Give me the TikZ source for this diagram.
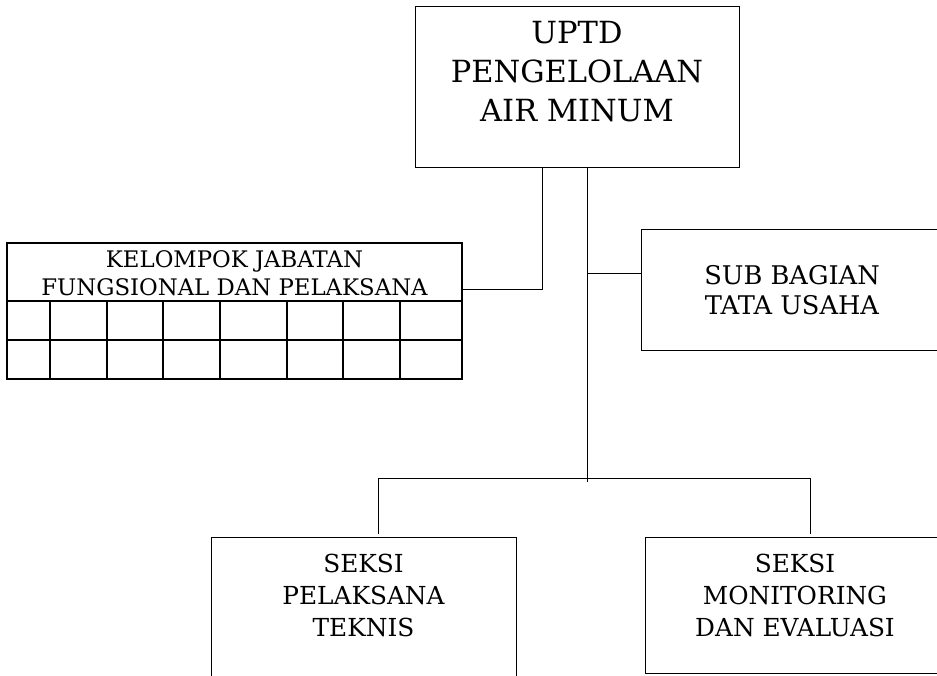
\documentclass[tikz,border=0pt]{standalone}
\usepackage{fontspec}
\setmainfont{DejaVu Serif}
\usepackage{tikz}

\begin{document}
\begin{tikzpicture}[x=1pt, y=-1pt,
  unit/.style={rectangle, draw=black, line width=1pt, inner sep=0pt},
  caption/.style={align=center, inner sep=0pt, text=black},
  link/.style={draw=black, line width=0.9pt},
  gridline/.style={draw=black, line width=1.8pt}
]
  \useasboundingbox (0,0) rectangle (937,676);
  \clip (0,0) rectangle (937,676);

  % boxes
  \node[unit, minimum width=324pt, minimum height=161pt] (uptd) at (577,87.5) {};
  \node[unit, minimum width=302pt, minimum height=120pt] (tu) at (792,290) {};
  \node[unit, minimum width=305pt, minimum height=153pt] (teknis) at (363.5,613.5) {};
  \node[unit, minimum width=300pt, minimum height=136pt] (monev) at (795,605) {};
  \node[unit, line width=1.8pt, minimum width=455pt, minimum height=136pt] (kel) at (234.5,311) {};

  % texts
  \node[caption, font=\fontsize{30.5}{39}\selectfont] (uptdtext) at ([yshift=15.5pt]uptd.center) {UPTD\\PENGELOLAAN\\AIR MINUM};
  \node[caption, font=\fontsize{25.7}{30}\selectfont] (tutext) at (tu.center) {SUB BAGIAN\\TATA USAHA};
  \node[caption, font=\fontsize{24.8}{31.7}\selectfont] (teknistext) at ([yshift=18pt]teknis.center) {SEKSI\\PELAKSANA\\TEKNIS};
  \node[caption, font=\fontsize{24.8}{31.7}\selectfont] (monevtext) at ([yshift=9.5pt]monev.center) {SEKSI\\MONITORING\\DAN EVALUASI};
  \node[caption, font=\fontsize{22.8}{28.3}\selectfont] (keltext) at (234.5,273) {KELOMPOK JABATAN\\FUNGSIONAL DAN PELAKSANA};

  % table cells
  \draw[gridline] (kel.west |- 0,301) -- (kel.east |- 0,301);
  \draw[gridline] (kel.west |- 0,340) -- (kel.east |- 0,340);
  \foreach \x in {50,107,163,220,287,343,400}
    \draw[gridline] (\x,301) -- (\x,379);

  % connectors
  \coordinate (kelturn) at (542,289);
  \draw[link] (kelturn |- uptd.south) -- (kelturn) -- (kel.east |- kelturn);
  \coordinate (trunk) at (587,482);
  \draw[link] (trunk |- uptd.south) -- (trunk);
  \coordinate (tuturn) at (587,273);
  \draw[link] (tuturn) -- (tu.west |- tuturn);
  \coordinate (busl) at (378,478);
  \coordinate (busr) at (810,478);
  \draw[link] (busl) -- (busr);
  \draw[link, shorten >=3pt] (busl) -- (busl |- teknis.north);
  \draw[link, shorten >=3pt] (busr) -- (busr |- monev.north);
\end{tikzpicture}
\end{document}
